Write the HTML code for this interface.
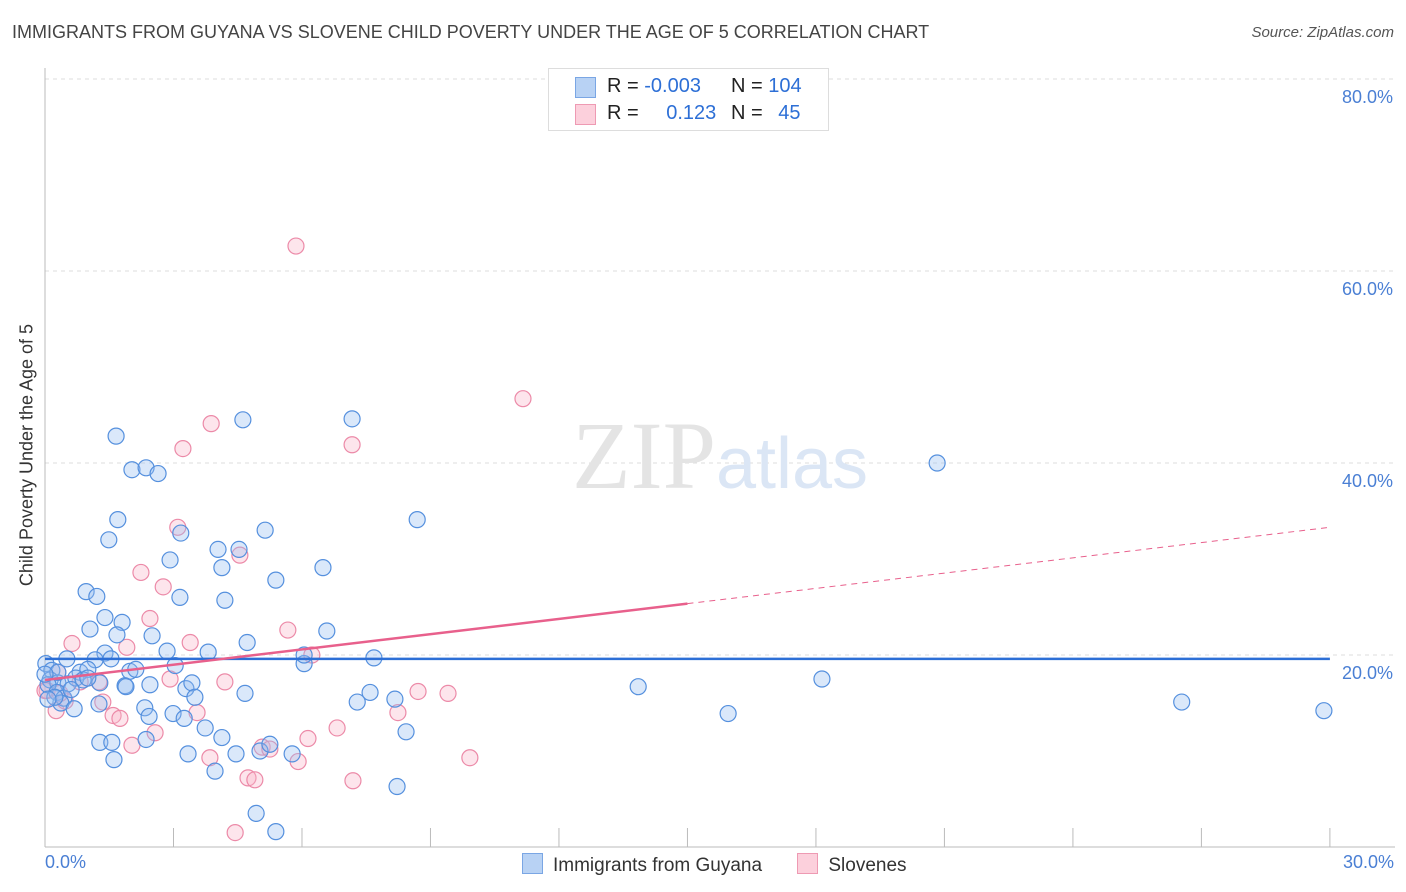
<!DOCTYPE html>
<html><head><meta charset="utf-8"><style>
body{margin:0;background:#fff;font-family:"Liberation Sans",sans-serif;}
#wrap{position:relative;width:1406px;height:892px;overflow:hidden;}
</style></head><body>
<div id="wrap">
<div style="position:absolute;left:12px;top:22px;font-size:18px;color:#444;">IMMIGRANTS FROM GUYANA VS SLOVENE CHILD POVERTY UNDER THE AGE OF 5 CORRELATION CHART</div>
<div style="position:absolute;right:12px;top:24px;font-size:15px;color:#555;font-style:italic;">Source: ZipAtlas.com</div>
<svg id="svg" width="1406" height="892" style="position:absolute;left:0;top:0"></svg>
</div>
<script>
const xTicks=[0,3,6,9,12,15,18,21,24,27,30];
const yTicks=[20,40,60,80];
const yTickLabels=["20.0%","40.0%","60.0%","80.0%"];
const blueX=[1.66,4.62,7.17,2.03,2.36,2.64,1.70,1.49,3.17,5.14,8.69,2.92,4.04,4.53,4.13,6.49,5.39,0.96,1.21,3.15,4.20,1.40,1.80,1.05,1.68,2.50,4.72,6.58,1.40,1.17,1.54,2.85,3.81,0.02,0.16,0.51,0.82,1.00,1.98,2.12,3.04,6.05,7.68,0.12,0.30,0.54,0.72,0.89,1.28,1.87,1.89,2.45,3.29,3.43,4.67,7.59,0.07,0.28,0.44,0.61,0.37,0.68,1.26,2.33,2.43,2.99,3.25,3.50,7.29,8.17,13.85,18.14,3.74,4.13,8.43,1.28,1.56,2.36,3.34,4.46,5.02,5.25,5.77,1.61,3.97,4.93,5.39,8.22,15.95,26.54,29.86,20.83,6.05,0.30,0,0.23,1.00,0.07];
const blueY=[42.8,44.5,44.6,39.3,39.5,38.9,34.1,32.0,32.7,33.0,34.1,29.9,31.0,31.0,29.1,29.1,27.8,26.6,26.1,26.0,25.7,23.9,23.4,22.7,22.1,22.0,21.3,22.5,20.2,19.5,19.6,20.4,20.3,19.1,18.4,19.6,18.2,18.5,18.3,18.5,18.9,19.1,19.7,17.4,17.1,17.0,17.6,17.4,17.1,16.8,16.7,16.9,16.5,17.1,16.0,16.1,16.9,16.1,15.5,16.4,15.0,14.4,14.9,14.5,13.6,13.9,13.4,15.6,15.1,15.4,16.7,17.5,12.4,11.4,12.0,10.9,10.9,11.2,9.7,9.7,10.0,10.7,9.7,9.1,7.9,3.5,1.6,6.3,13.9,15.1,14.2,40.0,20.0,18.2,18.0,15.6,17.6,15.4];
const pinkX=[5.86,11.16,3.88,7.17,3.22,3.10,4.55,2.24,2.76,2.45,5.67,3.39,1.91,0.63,6.23,4.20,2.92,8.71,9.41,3.55,1.59,1.75,1.35,0.26,0.05,0.47,2.03,2.57,6.82,6.14,5.07,5.25,9.92,3.85,5.91,4.74,4.90,7.19,4.44,8.24,0.30,0.82,1.26,0.35,0];
const pinkY=[62.6,46.7,44.1,41.9,41.5,33.3,30.4,28.6,27.1,23.8,22.6,21.3,20.8,21.2,20.0,17.2,17.5,16.2,16.0,14.0,13.7,13.4,15.1,14.2,16.3,15.2,10.6,11.9,12.4,11.3,10.4,10.2,9.3,9.3,8.9,7.2,7.0,6.9,1.5,14.0,18.2,17.2,17.2,16.0,16.3];
const blueTrend=[19.6,19.6];
const pinkTrend=[17.4,33.3];
const pinkSolidEnd=15;

const NS="http://www.w3.org/2000/svg";
const svg=document.getElementById('svg');
const X=v=>45+v*42.83;
const Y=v=>847-v*9.6;
function mk(t,a,parent){const e=document.createElementNS(NS,t);for(const k in a)e.setAttribute(k,a[k]);(parent||svg).appendChild(e);return e;}

// gridlines
yTicks.forEach((t,i)=>{
 const g=mk('line',{x1:45,x2:1395,y1:Y(t),y2:Y(t),stroke:'#ddd','stroke-dasharray':'4,4'});
 
 
 const tx=mk('text',{x:1393,y:Y(t)+24,'text-anchor':'end','font-size':18,fill:'#4a7fd4'});
 tx.textContent=yTickLabels[i];
 
 
});
// axes
const ax=mk('line',{x1:45,x2:1395,y1:847,y2:847,stroke:'#bbb'});


const ay=mk('line',{x1:45,x2:45,y1:68,y2:847,stroke:'#bbb'});


xTicks.forEach(t=>{
 const l=mk('line',{x1:X(t),x2:X(t),y1:828,y2:847,stroke:'#bbb'});
 
 
});
// watermark
const wm=mk('text',{x:720,y:488,'text-anchor':'middle','font-size':96,fill:'#e4e4e4','font-family':'Liberation Serif, serif'});


wm.innerHTML='ZIP<tspan fill="#dbe6f5" font-family="Liberation Sans, sans-serif" font-size="72">atlas</tspan>';

// points
pinkX.forEach((v,i)=>{
 const c=mk('circle',{cx:X(v),cy:Y(pinkY[i]),r:8,fill:'rgba(248,180,200,0.35)',stroke:'#ec8aa8','stroke-width':1.2});
 
 
});
blueX.forEach((v,i)=>{
 const c=mk('circle',{cx:X(v),cy:Y(blueY[i]),r:8,fill:'rgba(150,190,240,0.35)',stroke:'#5590de','stroke-width':1.2});
 
 
});
// trend lines
const bl=mk('line',{x1:X(0),x2:X(30),y1:Y(blueTrend[0]),y2:Y(blueTrend[1]),stroke:'#2d6fd6','stroke-width':2.5});


const py=v=>pinkTrend[0]+(pinkTrend[1]-pinkTrend[0])*v/30;
const pl=mk('line',{x1:X(0),x2:X(pinkSolidEnd),y1:Y(py(0)),y2:Y(py(pinkSolidEnd)),stroke:'#e8608c','stroke-width':2.5});


const pd=mk('line',{x1:X(pinkSolidEnd),x2:X(30),y1:Y(py(pinkSolidEnd)),y2:Y(py(30)),stroke:'#e8608c','stroke-width':1,'stroke-dasharray':'6,5'});


</script>
<div style="position:absolute;left:27px;top:455px;transform:translate(-50%,-50%) rotate(-90deg);font-size:18px;color:#333;white-space:nowrap;">Child Poverty Under the Age of 5</div>
<div style="position:absolute;left:45px;top:852px;font-size:18px;color:#4a7fd4;">0.0%</div>
<div style="position:absolute;right:12px;top:852px;font-size:18px;color:#4a7fd4;">30.0%</div>
<div style="position:absolute;left:548px;top:68px;width:279px;height:61px;border:1px solid #ddd;background:#fff;font-size:20px;color:#222;">
 <div style="position:absolute;left:26px;top:8px;width:19px;height:19px;background:#b8d2f4;border:1px solid #7aa6e4;"></div>
 <div style="position:absolute;left:58px;top:6px;">R = <span style="color:#2d6fd6">-0.003</span></div>
 <div style="position:absolute;left:182px;top:6px;">N = <span style="color:#2d6fd6">104</span></div>
 <div style="position:absolute;left:26px;top:35px;width:19px;height:19px;background:#fcd0dc;border:1px solid #ee9ab3;"></div>
 <div style="position:absolute;left:58px;top:33px;">R = <span style="color:#2d6fd6;margin-left:22px">0.123</span></div>
 <div style="position:absolute;left:182px;top:33px;">N = <span style="color:#2d6fd6;margin-left:10px">45</span></div>
</div>
<div style="position:absolute;left:522px;top:853px;font-size:19px;color:#333;white-space:nowrap;">
 <span><span style="display:inline-block;width:19px;height:19px;background:#b8d2f4;border:1px solid #7aa6e4;vertical-align:-3px;margin-right:10px"></span>Immigrants from Guyana</span>
 <span style="margin-left:30px"><span style="display:inline-block;width:19px;height:19px;background:#fcd0dc;border:1px solid #ee9ab3;vertical-align:-3px;margin-right:10px"></span>Slovenes</span>
</div>
</body></html>
